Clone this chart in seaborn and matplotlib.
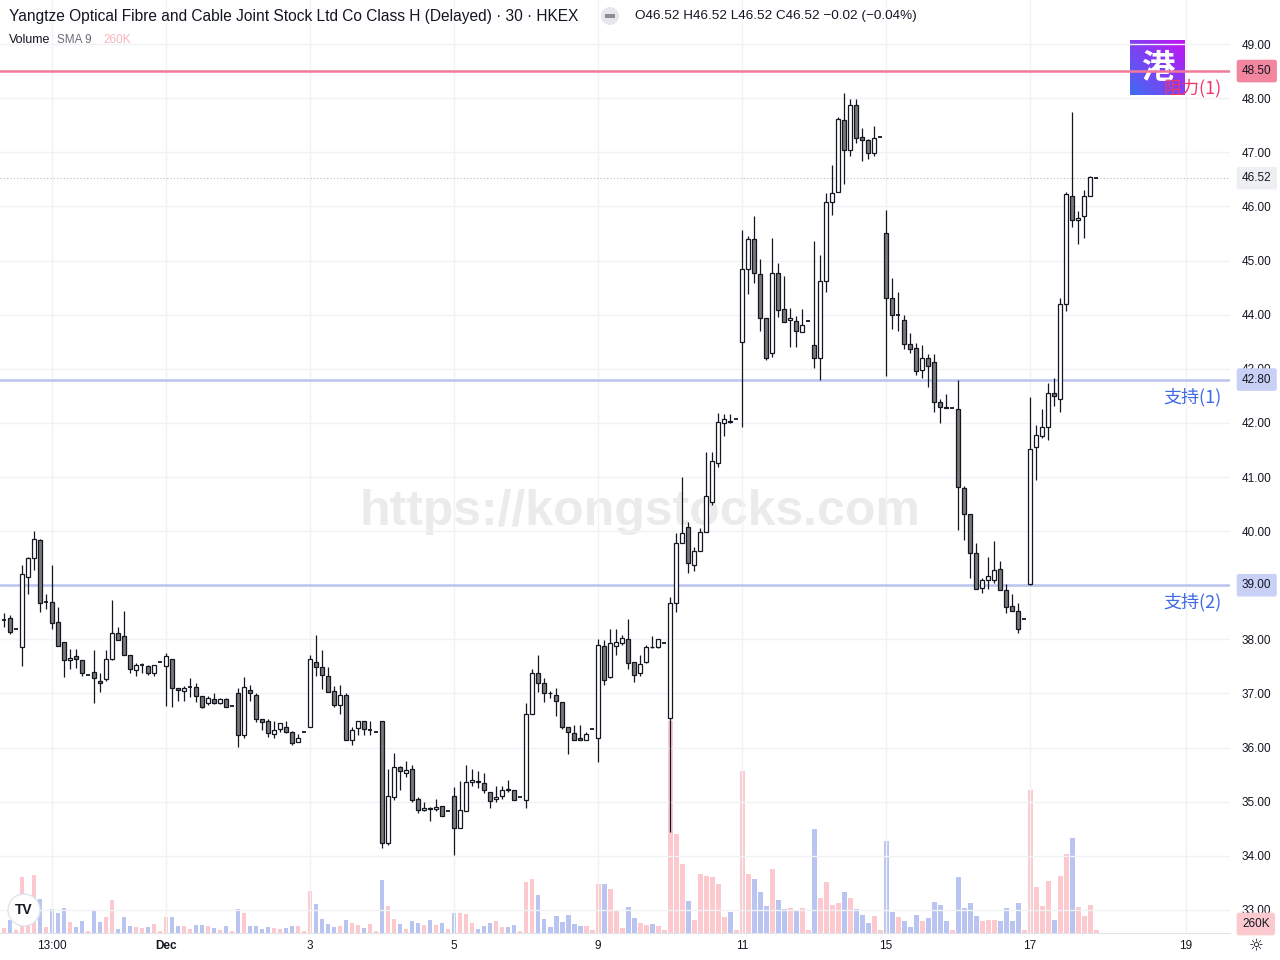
import numpy as np
import pandas as pd
import matplotlib
matplotlib.use("Agg")
import matplotlib.pyplot as plt
import matplotlib.transforms as mtransforms
from matplotlib.patches import Ellipse, Rectangle
import seaborn as sns

sns.set_style("white")
plt.rcParams['font.family'] = ['Liberation Sans', 'DejaVu Sans']

# 30 min bars, tail of Nov 26 through Dec 17 (12 bars a day)
opens = [38.36, 38.39, 38.20,
         37.86, 39.16, 39.50, 39.84, 38.69, 38.69, 38.33, 37.96, 37.61, 37.69, 37.61, 37.35,
         37.39, 37.23, 37.26, 37.63, 38.12, 38.06, 37.72, 37.43, 37.52, 37.50, 37.37, 37.58,
         37.50, 37.63, 37.10, 37.04, 37.12, 37.12, 36.95, 36.82, 36.89, 36.82, 36.89, 36.76,
         37.00, 36.23, 37.06, 36.97, 36.52, 36.50, 36.25, 36.34, 36.38, 36.28, 36.10, 36.28,
         36.39, 37.59, 37.49, 37.32, 37.04, 36.78, 36.98, 36.14, 36.36, 36.49, 36.32, 36.28,
         36.50, 34.24, 35.08, 35.64, 35.53, 35.60, 35.05, 34.84, 34.88, 34.86, 34.92, 34.82,
         35.10, 34.51, 34.82, 35.36, 35.38, 35.34, 35.18, 35.05, 35.10, 35.24, 35.21, 35.08,
         35.03, 36.63, 37.37, 37.19, 37.01, 36.98, 36.84, 36.38, 36.27, 36.17, 36.14, 36.34,
         36.17, 37.88, 37.30, 37.88, 37.93, 38.00, 37.58, 37.37, 37.58, 37.86, 37.85, 37.93,
         36.54, 38.67, 39.78, 40.08, 39.37, 39.64, 39.98, 40.53, 41.25, 41.99, 42.04, 42.07,
         43.49, 44.84, 45.39, 44.75, 43.93, 43.29, 44.76, 44.10, 43.90, 43.88, 43.67, 43.88,
         43.43, 43.19, 44.62, 46.09, 46.26, 47.59, 47.04, 47.87, 47.29, 47.22, 46.98, 47.29,
         45.50, 44.30, 43.99, 43.90, 43.45, 43.38, 42.97, 43.19, 43.12, 42.38, 42.29, 42.27,
         42.25, 40.79, 40.31, 39.59, 38.94, 39.09, 39.09, 39.30, 38.91, 38.61, 38.52, 38.37,
         39.02, 41.55, 41.75, 41.92, 42.55, 42.44, 44.19, 46.19, 45.74, 45.82, 46.19, 46.52]
highs = [38.49, 38.45, 38.20,
         39.37, 39.52, 40.00, 39.86, 38.84, 39.37, 38.59, 37.96, 37.82, 37.82, 37.61, 37.35,
         37.80, 37.37, 37.80, 38.73, 38.22, 38.53, 37.72, 37.56, 37.56, 37.52, 37.52, 37.58,
         37.74, 37.63, 37.10, 37.13, 37.28, 37.19, 36.95, 36.95, 37.00, 36.91, 36.91, 36.76,
         37.10, 37.30, 37.15, 37.00, 36.52, 36.52, 36.50, 36.45, 36.49, 36.30, 36.25, 36.28,
         37.71, 38.08, 37.80, 37.49, 37.13, 37.15, 37.00, 36.38, 36.49, 36.49, 36.49, 36.28,
         36.50, 35.61, 35.90, 35.66, 35.75, 35.67, 35.08, 34.99, 34.90, 35.05, 34.92, 34.82,
         35.27, 35.38, 35.67, 35.61, 35.57, 35.53, 35.18, 35.29, 35.29, 35.41, 35.21, 35.08,
         36.82, 37.45, 37.71, 37.28, 37.04, 37.10, 36.84, 36.38, 36.41, 36.41, 36.28, 36.34,
         38.00, 37.99, 38.20, 38.19, 38.08, 38.38, 37.58, 37.71, 37.90, 38.06, 38.00, 37.93,
         38.79, 39.97, 41.00, 40.16, 39.71, 40.05, 41.47, 41.47, 42.19, 42.16, 42.16, 42.07,
         45.56, 45.45, 45.82, 45.02, 43.93, 45.41, 44.95, 44.71, 44.12, 43.97, 44.10, 43.88,
         45.36, 45.10, 46.24, 46.76, 47.66, 48.09, 47.98, 47.98, 47.44, 47.24, 47.48, 47.29,
         45.93, 44.67, 44.41, 43.99, 43.66, 43.47, 43.43, 43.28, 43.28, 42.44, 42.53, 42.27,
         42.80, 40.83, 40.31, 39.78, 39.13, 39.53, 39.81, 39.45, 39.02, 38.84, 38.68, 38.37,
         42.48, 41.96, 42.25, 42.73, 42.82, 44.30, 46.27, 47.74, 45.91, 46.30, 46.56, 46.52]
lows = [38.22, 38.10, 38.20,
        37.51, 38.84, 39.29, 38.51, 38.56, 38.20, 37.87, 37.30, 37.45, 37.47, 37.32, 37.35,
        36.82, 37.02, 37.23, 37.61, 37.98, 37.72, 37.37, 37.32, 37.37, 37.34, 37.33, 37.58,
        36.76, 36.75, 36.87, 36.86, 36.94, 36.85, 36.73, 36.78, 36.80, 36.80, 36.75, 36.76,
        36.02, 36.18, 36.86, 36.47, 36.32, 36.19, 36.17, 36.28, 36.27, 36.04, 36.10, 36.28,
        36.39, 37.32, 37.08, 37.02, 36.75, 36.63, 36.15, 36.04, 36.23, 36.23, 36.23, 36.28,
        34.15, 34.20, 35.03, 35.22, 35.45, 35.00, 34.80, 34.82, 34.65, 34.82, 34.73, 34.82,
        34.01, 34.51, 34.82, 35.29, 35.25, 35.16, 34.88, 34.99, 35.05, 35.18, 35.03, 35.08,
        34.88, 36.63, 37.02, 36.84, 36.92, 36.59, 36.34, 35.88, 36.15, 36.14, 36.14, 36.34,
        35.73, 37.16, 37.28, 37.72, 37.90, 37.45, 37.22, 37.32, 37.56, 37.84, 37.84, 37.93,
        34.44, 38.51, 39.78, 39.23, 39.27, 39.64, 39.98, 40.48, 41.19, 41.75, 42.00, 42.07,
        41.93, 44.39, 44.58, 43.70, 43.17, 43.21, 43.96, 43.86, 43.41, 43.41, 43.67, 43.88,
        43.01, 42.79, 44.41, 45.84, 46.26, 46.41, 46.93, 47.18, 46.83, 46.87, 46.94, 47.29,
        42.87, 43.73, 43.69, 43.36, 43.30, 42.88, 42.82, 42.66, 42.20, 41.99, 42.27, 42.27,
        40.03, 39.83, 39.13, 38.93, 38.85, 38.93, 39.04, 38.91, 38.48, 38.52, 38.11, 38.37,
        39.00, 40.94, 41.72, 41.68, 42.32, 42.21, 44.06, 45.61, 45.30, 45.41, 46.19, 46.52]
closes = [38.36, 38.13, 38.20,
          39.21, 39.50, 39.85, 38.67, 38.69, 38.30, 37.87, 37.61, 37.65, 37.63, 37.37, 37.35,
          37.28, 37.20, 37.63, 38.12, 37.99, 37.72, 37.45, 37.52, 37.52, 37.37, 37.52, 37.58,
          37.69, 37.10, 37.06, 37.10, 37.12, 36.95, 36.75, 36.91, 36.82, 36.89, 36.75, 36.76,
          36.23, 37.12, 37.00, 36.52, 36.47, 36.27, 36.32, 36.45, 36.28, 36.08, 36.17, 36.28,
          37.63, 37.49, 37.34, 37.02, 36.78, 36.97, 36.15, 36.32, 36.49, 36.34, 36.32, 36.28,
          34.24, 35.10, 35.65, 35.56, 35.58, 35.03, 34.84, 34.88, 34.87, 34.90, 34.73, 34.82,
          34.51, 34.84, 35.36, 35.40, 35.36, 35.21, 35.01, 35.08, 35.21, 35.22, 35.03, 35.08,
          36.63, 37.37, 37.19, 37.00, 37.00, 36.86, 36.38, 36.28, 36.15, 36.14, 36.25, 36.34,
          37.89, 37.25, 37.94, 37.96, 38.02, 37.56, 37.35, 37.54, 37.85, 37.85, 38.00, 37.93,
          38.67, 39.78, 39.96, 39.41, 39.64, 39.98, 40.64, 41.30, 42.01, 42.07, 42.02, 42.07,
          44.84, 45.39, 44.76, 43.93, 43.19, 44.76, 44.09, 43.86, 43.94, 43.69, 43.80, 43.88,
          43.19, 44.62, 46.09, 46.24, 47.61, 47.04, 47.87, 47.26, 47.22, 46.98, 47.26, 47.29,
          44.30, 43.99, 43.99, 43.45, 43.36, 42.95, 43.19, 43.06, 42.38, 42.29, 42.28, 42.27,
          40.81, 40.31, 39.59, 38.93, 39.09, 39.17, 39.28, 38.91, 38.59, 38.52, 38.20, 38.37,
          41.51, 41.77, 41.92, 42.55, 42.49, 44.19, 46.22, 45.74, 45.78, 46.19, 46.54, 46.52]
# volume in thousands of shares
volume_k = [400, 990, 205,
            4260, 1670, 4410, 2580, 456, 1820, 1520, 1900, 836, 456, 912, 152,
            1750, 836, 1220, 2510, 304, 1220, 532, 456, 380, 456, 684, 152,
            1220, 1220, 532, 532, 304, 608, 608, 532, 380, 228, 532, 152,
            1820, 1520, 532, 532, 304, 456, 380, 304, 380, 532, 532, 152,
            3190, 2200, 1060, 684, 456, 532, 990, 760, 608, 380, 684, 152,
            4030, 2050, 1060, 684, 304, 912, 760, 608, 990, 608, 760, 304,
            1520, 1520, 1440, 760, 304, 532, 760, 912, 456, 456, 608, 152,
            3880, 4100, 2890, 1060, 420, 1320, 870, 1400, 710, 560, 560, 250,
            3690, 3690, 3310, 1700, 400, 2010, 1170, 790, 640, 710, 560, 250,
            16110, 7490, 5280, 2460, 1020, 4450, 4370, 4220, 3760, 1250, 1630, 250,
            12300, 4520, 4070, 3080, 2080, 4830, 2540, 1850, 1930, 1700, 1930, 250,
            7870, 2690, 3910, 2160, 2310, 3080, 2690, 1850, 1400, 790, 1320, 250,
            6960, 1630, 1250, 940, 490, 1400, 940, 1170, 2390, 2160, 940, 250,
            4220, 1930, 2310, 1320, 940, 1020, 1020, 940, 1930, 940, 2310, 250,
            10850, 3530, 2080, 3990, 1020, 4370, 5970, 7190, 2010, 1320, 2160, 260]

tick_pos = [8, 27, 51, 75, 99, 123, 147, 171, 197]
tick_labels = ["13:00", "Dec", "3", "5", "9", "11", "15", "17", "19"]
price_ticks = [33.0, 34.0, 35.0, 36.0, 37.0, 38.0, 39.0, 40.0, 41.0,
               42.0, 43.0, 44.0, 45.0, 46.0, 47.0, 48.0, 49.0]

resistance_1 = 48.50
support_1 = 42.80
support_2 = 39.00
last_price = 46.52

df = pd.DataFrame({"o": opens, "h": highs, "l": lows, "c": closes, "vol": volume_k})
df["i"] = np.arange(len(df))
df["dir"] = np.where(df.c >= df.o, "up", "down")

W, H = 1280, 960
fig = plt.figure(figsize=(12.8, 9.6), dpi=100)
ax = fig.add_axes([0, 27 / H, 1230 / W, 933 / H])
ax_vol = ax.twinx()
ax.set_zorder(ax_vol.get_zorder() + 1)
ax.patch.set_visible(False)

# watermark behind everything
ax_vol.text(0.5, 1 - 512 / H, "https://kongstocks.com", transform=fig.transFigure,
            ha="center", va="center", fontsize=36, fontweight="bold",
            color="#ebebeb", zorder=0)

# volume overlay
sns.barplot(data=df, x="i", y="vol", hue="dir",
            palette={"up": "#fbc9ce", "down": "#b9c5f0"},
            native_scale=True, width=0.83, dodge=False, saturation=1,
            errorbar=None, legend=False, linewidth=0, edgecolor="none", ax=ax_vol)
ax_vol.set_ylim(0, 933 * 76)
ax_vol.set_yticks([])
ax_vol.set_ylabel("")
ax_vol.set_xlabel("")
for s in ax_vol.spines.values():
    s.set_visible(False)

# candles
ink = "#131722"
ax.vlines(df.i, df.l, df.h, color=ink, lw=0.9, zorder=3)
body = (df.c - df.o).abs()
solid = body > 0.005
ax.bar(df.i[solid], body[solid], bottom=np.minimum(df.o, df.c)[solid], width=0.74,
       color=np.where(df.dir[solid] == "up", "white", "#787878"),
       edgecolor=ink, linewidth=0.9, zorder=4)
flat = ~solid
ax.hlines(df.c[flat], df.i[flat] - 0.37, df.i[flat] + 0.37, color=ink, lw=1.3, zorder=4)

# horizontal levels
ax.axhline(resistance_1, color="#f07898", lw=1.8, zorder=2)
ax.axhline(support_1, color="#bac4ee", lw=1.8, zorder=2)
ax.axhline(support_2, color="#bac4ee", lw=1.8, zorder=2)
ax.axhline(last_price, color="#b8b8b8", lw=0.8, ls=(0, (1, 2)), zorder=2)

ax.set_xlim(-0.667, 204.33)
ax.set_ylim(32.575, 49.813)
ax.set_xticks(tick_pos)
ax.set_xticklabels(tick_labels)
ax.yaxis.tick_right()
ax.set_yticks(price_ticks)
ax.set_yticklabels([f"{p:.2f}" for p in price_ticks])
ax.tick_params(axis="y", length=0, pad=8.5, labelsize=8.5, labelcolor=ink)
ax.tick_params(axis="x", length=0, pad=5, labelsize=8.5, labelcolor=ink)
ax.get_xticklabels()[1].set_fontweight("bold")
ax.grid(True, color="#f0f2f5", lw=1)
ax.set_axisbelow(True)
for name, s in ax.spines.items():
    s.set_visible(name == "bottom")
ax.spines["bottom"].set_color("#e0e3eb")

trans = mtransforms.blended_transform_factory(ax.transAxes, ax.transData)


def price_tag(y, text, fc, tc=ink, transform=trans):
    ax.text(1 + 12 / 1230, y, text, transform=transform, ha="left", va="center",
            fontsize=8.5, color=tc, clip_on=False, zorder=10,
            bbox=dict(boxstyle="round,pad=0.45,rounding_size=0.2", fc=fc, ec="none"))


price_tag(resistance_1, "48.50", "#f2869f")
price_tag(support_1, "42.80", "#c8d0f5")
price_tag(support_2, "39.00", "#c8d0f5")
price_tag(last_price, "46.52", "#eeeff2")
price_tag((933 - 924) / 933, "260K", "#fbc9ce", transform=ax.transAxes)

cjk = ["Noto Sans CJK SC", "DejaVu Sans"]
ax.text(1222 / 1230, resistance_1 - 0.32, "阻力(1)", transform=trans, ha="right",
        va="center", fontsize=13, color="#f0386a", family=cjk, zorder=5)
ax.text(1222 / 1230, support_1 - 0.32, "支持(1)", transform=trans, ha="right",
        va="center", fontsize=13, color="#3f6ae6", family=cjk, zorder=5)
ax.text(1222 / 1230, support_2 - 0.31, "支持(2)", transform=trans, ha="right",
        va="center", fontsize=13, color="#3f6ae6", family=cjk, zorder=5)

# logo square
logo = fig.add_axes([1130 / W, 1 - 95 / H, 55 / W, 55 / H])
gx, gy = np.meshgrid(np.linspace(0, 1, 50), np.linspace(0, 1, 50))
t = np.clip((gx + gy) / 2, 0, 1)[..., None]
c0 = np.array([0.25, 0.42, 0.95])
c1 = np.array([0.76, 0.08, 0.95])
logo.imshow(c0 * (1 - t) + c1 * t, origin="lower", extent=(0, 1, 0, 1))
logo.text(0.5, 0.48, "港", color="white", fontsize=24, fontweight="bold",
          ha="center", va="center", family=cjk)
logo.set_axis_off()

# header
fig.text(9 / W, 1 - 16 / H,
         "Yangtze Optical Fibre and Cable Joint Stock Ltd Co Class H (Delayed) · 30 · HKEX",
         fontsize=11.2, va="center", color=ink)
fig.add_artist(Ellipse((610 / W, 1 - 16 / H), 18 / W, 18 / H, transform=fig.transFigure,
                       fc="#e6e7eb", ec="none"))
fig.add_artist(Rectangle((605 / W, 1 - 17.5 / H), 10 / W, 3 / H, transform=fig.transFigure,
                         fc="#8a8d96", ec="none"))
fig.text(635 / W, 1 - 16 / H, "O46.52 H46.52 L46.52 C46.52 −0.02 (−0.04%)",
         fontsize=9.7, va="center", color=ink)
fig.text(9 / W, 1 - 40 / H, "Volume", fontsize=9, va="center", color=ink)
fig.text(57 / W, 1 - 40 / H, "SMA 9", fontsize=8.5, va="center", color="#6a6d78")
fig.text(103 / W, 1 - 40 / H, "260K", fontsize=8.5, va="center", color="#f6b5bd")

# TradingView badge and settings icon
fig.add_artist(Ellipse((24 / W, 1 - 910 / H), 32 / W, 32 / H, transform=fig.transFigure,
                       fc="white", ec="#e0e3eb", lw=1, zorder=10))
fig.text(24 / W, 1 - 910 / H, "TV", fontsize=10, fontweight="bold", ha="center",
         va="center", color=ink, zorder=11)
fig.text(1256 / W, 1 - 946 / H, "☼", fontsize=12, ha="center", va="center",
         color=ink, family=["DejaVu Sans"])

fig.savefig("out.png", dpi=100)
